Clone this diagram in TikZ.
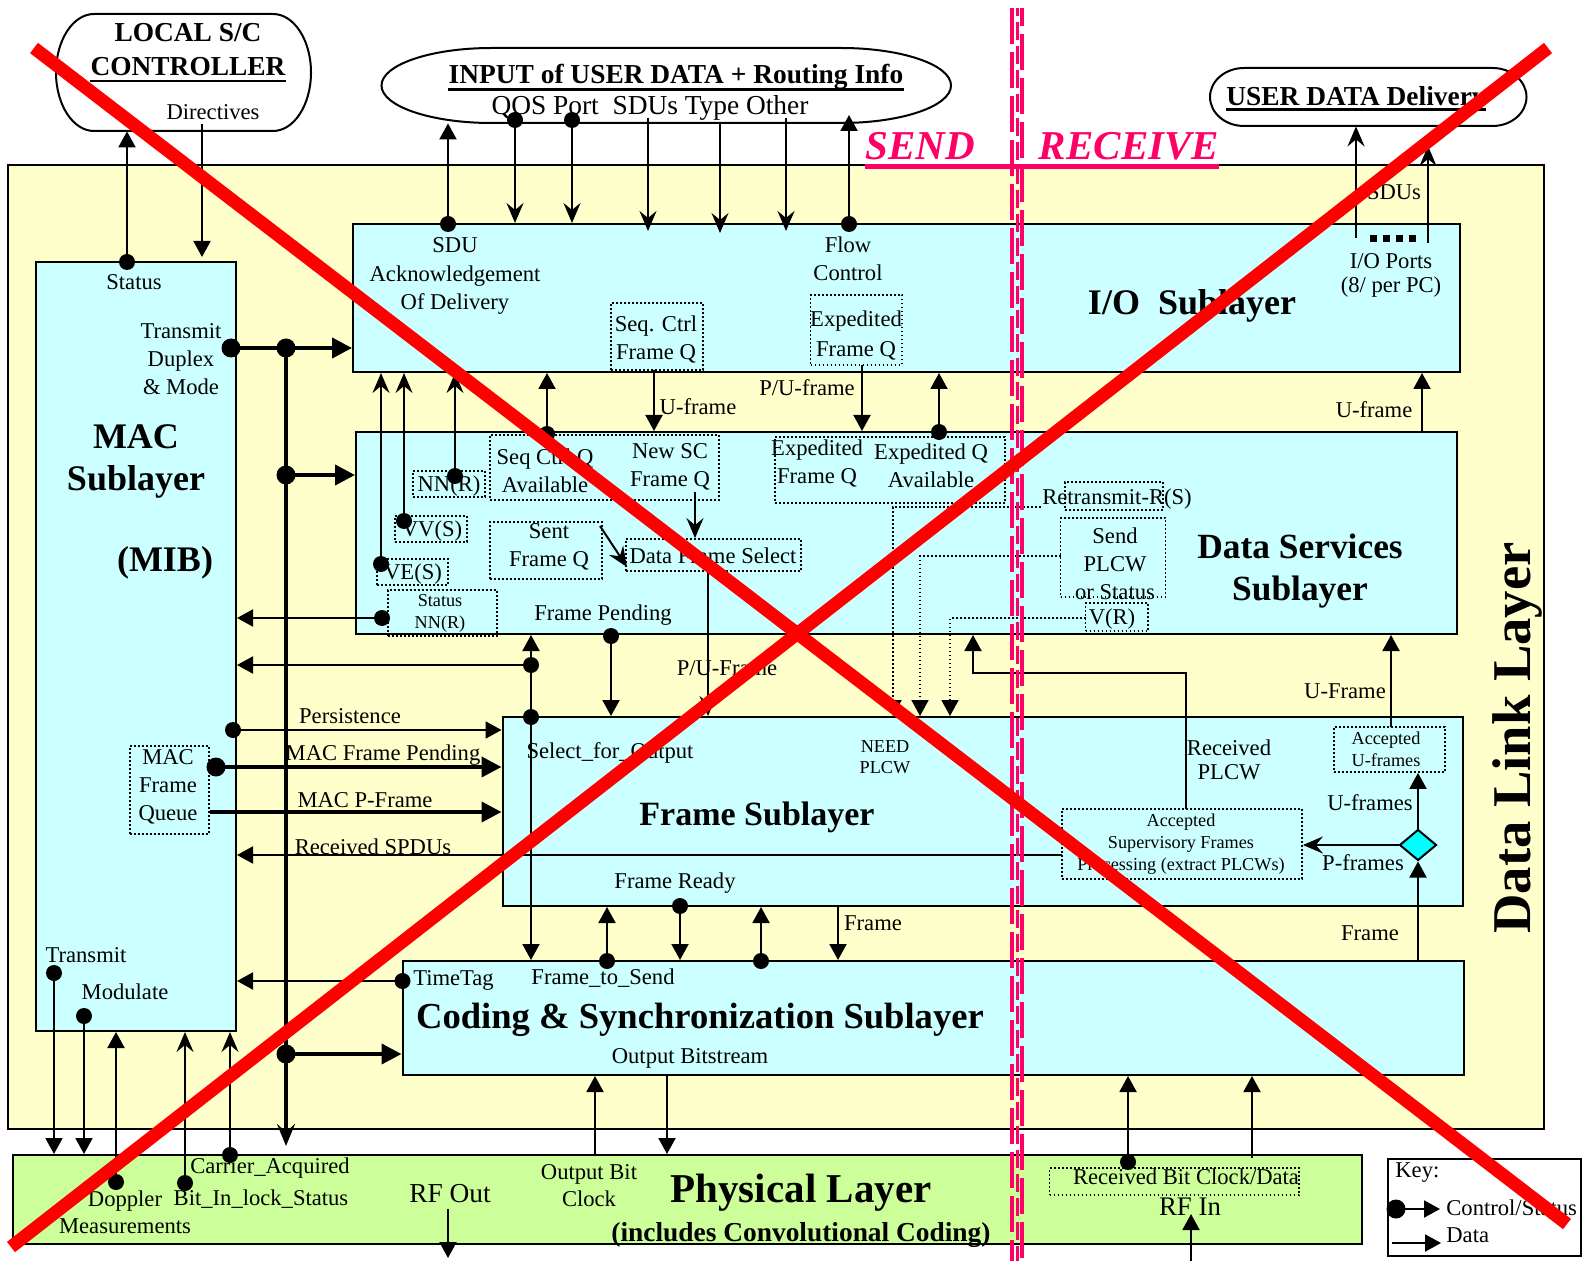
\documentclass[tikz,border=0pt]{standalone}
\usepackage{fontspec}
\setmainfont{Liberation Serif}
\usetikzlibrary{arrows.meta,fit,shapes.geometric}
\definecolor{dlly}{RGB}{255,255,204}
\definecolor{subc}{RGB}{204,255,255}
\definecolor{phyg}{RGB}{204,255,153}
\definecolor{pinkc}{RGB}{255,0,102}
\definecolor{diac}{RGB}{0,255,255}
\definecolor{xred}{RGB}{255,0,0}
\begin{document}
\begin{tikzpicture}[x=0.5pt,y=-0.5pt,
  lay/.style={draw, line width=1pt, inner sep=0pt},
  sub/.style={lay, fill=subc},
  qbox/.style={draw, line width=0.9pt, dash pattern=on 0.9pt off 1.1pt, inner sep=0pt},
  lbl/.style={inner sep=0pt, font=\fontsize{11.3}{14}\selectfont, align=center},
  sml/.style={inner sep=0pt, font=\fontsize{9.1}{11}\selectfont, align=center},
  ttl/.style={inner sep=0pt, font=\fontsize{18}{21}\selectfont\bfseries, align=center},
  hdr/.style={inner sep=0pt, font=\fontsize{13.7}{16}\selectfont\bfseries},
  dot/.style={circle, fill=black, inner sep=0pt, minimum size=8pt},
  bdot/.style={circle, fill=black, inner sep=0pt, minimum size=9.5pt},
  ctl/.style={line width=1pt, -{Triangle[length=8pt,width=8.5pt]}},
  dat/.style={line width=1pt, -{Stealth[length=10pt,width=8.5pt,inset=3.5pt]}},
  thk/.style={line width=2pt, -{Triangle[length=10pt,width=10pt]}},
  dtl/.style={line width=0.9pt, dash pattern=on 0.9pt off 1.1pt, -{Triangle[length=8pt,width=8.5pt]}},
]
\fill[white] (0,0) rectangle (1583,1261);
\useasboundingbox (0,0) rectangle (1583,1261);

% ---------- top shapes ----------
\draw[line width=1pt] (94,14) -- (273,14) arc[start angle=-90,end angle=90,x radius=38,y radius=58.5]
  -- (94,131) arc[start angle=90,end angle=270,x radius=38,y radius=58.5] -- cycle;
\node[fit={(56,14)(311,131)}, inner sep=0pt] (loc) {};
\draw[line width=1pt] (491.5,48) -- (841,48) arc[start angle=-90,end angle=90,x radius=110,y radius=37.5]
  -- (491.5,123) arc[start angle=90,end angle=270,x radius=110,y radius=37.5] -- cycle;
\node[fit={(381.5,48)(951,123)}, inner sep=0pt] (inp) {};
\draw[line width=1pt] (1244,68) -- (1492.5,68) arc[start angle=-90,end angle=90,x radius=34,y radius=29]
  -- (1244,126) arc[start angle=90,end angle=270,x radius=34,y radius=29] -- cycle;
\node[fit={(1210,68)(1526.5,126)}, inner sep=0pt] (ud) {};

% ---------- layers ----------
\node[lay, fill=dlly, fit={(7.5,165)(1544,1129)}] (dll) {};
\node[sub, fit={(35.5,262)(236,1031)}] (mac) {};
\node[sub, fit={(353,224)(1459.5,372)}] (io) {};
\node[sub, fit={(356,432)(1457,634)}] (ds) {};
\node[sub, fit={(502.5,717)(1463,906)}] (fs) {};
\node[sub, fit={(402.5,961)(1464,1075)}] (cs) {};
\node[lay, fill=phyg, fit={(12.5,1155)(1362,1244)}] (phy) {};
\node[lay, fill=white, fit={(1387.5,1159)(1581,1256)}] (key) {};

% ---------- dotted boxes ----------
\node[qbox, fit={(611,303)(703,370)}] (qSeqC) {};
\node[qbox, fit={(810.5,295)(902,365)}] (qExpF) {};
\node[qbox, fit={(413,471)(485,497)}] (qNNR) {};
\node[qbox, fit={(490,435)(719,500)}] (qSeqQ) {};
\node[qbox, fit={(395,516)(467,542)}] (qVVS) {};
\node[qbox, fit={(377,559)(448,585)}] (qVES) {};
\node[qbox, fit={(388,590)(497,636)}] (qStNN) {};
\node[qbox, fit={(490,522)(602,579)}] (qSent) {};
\node[qbox, fit={(626,539)(801,571)}] (qDFS) {};
\node[qbox, fit={(775,437)(1005,503)}] (qExpQ) {};
\node[qbox, fit={(1065,482)(1163,510)}] (qRetr) {};
\node[qbox, fit={(1060.5,518)(1165.5,597)}] (qSend) {};
\node[qbox, fit={(1085.5,603)(1148,631)}] (qVR) {};
\node[qbox, fit={(130,746)(209,834)}] (qMACQ) {};
\node[qbox, fit={(1334,727)(1445,772)}] (qAccU) {};
\node[qbox, fit={(1062,809)(1302,879)}] (qAccS) {};
\node[qbox, fit={(1049.5,1168)(1299,1195)}] (qRBC) {};

% ---------- headings ----------
\node[hdr, anchor=base] (tLocal) at (188,42) {LOCAL S/C};
\node[hdr, anchor=base] (tCtrl) at (188,76) {CONTROLLER};
\draw[line width=1.4pt] ([yshift=-2.5pt]tCtrl.base west) -- ([yshift=-2.5pt]tCtrl.base east);
\node[hdr, anchor=base] (tInp) at (676,84) {INPUT of USER DATA + Routing Info};
\draw[line width=1.4pt] ([yshift=-2.7pt]tInp.base west) -- ([yshift=-2.7pt]tInp.base east);
\node[inner sep=0pt, font=\fontsize{13.7}{16}\selectfont] (tQos) at (650,108) {QOS Port\ \ SDUs Type Other};
\node[hdr, anchor=base] (tUD) at (1356,106) {USER DATA Delivery};
\draw[line width=1.4pt] ([yshift=-1.8pt]tUD.base west) -- ([yshift=-1.8pt]tUD.base east);
\node[inner sep=0pt, anchor=base, text=pinkc, font=\fontsize{20.5}{24}\selectfont\bfseries\itshape] (tSEND) at (920,160) {SEND};
\node[inner sep=0pt, anchor=base, text=pinkc, font=\fontsize{20.5}{24}\selectfont\bfseries\itshape] (tRECV) at (1129,160) {RECEIVE};
\draw[pinkc, line width=2.5pt] (tSEND.base west |- 0,167) -- (tRECV.base east |- 0,167);

% ---------- labels ----------
\node[lbl] (tDir) at (213,112) {Directives};
\node[lbl] (tStatus) at (134,282) {Status};
\node[lbl] (tTx) at (181,359) {Transmit\\Duplex\\\& Mode};
\node[ttl] (tMAC) at (136,437) {MAC};
\node[ttl] (tSubl) at (136,482) {Sublayer};
\node[ttl] (tMIB) at (165,563) {(MIB)};
\node[lbl, font=\fontsize{11.3}{14.25}\selectfont] (tSDU) at (455,276) {SDU\\Acknowledgement\\Of Delivery};
\node[lbl] (tFlow) at (848,259) {Flow\\Control};
\node[ttl] (tIO) at (1192,306) {I/O\ \ Sublayer};
\node[lbl, font=\fontsize{11.3}{12}\selectfont] (tPorts) at (1391,275) {I/O Ports\\(8/ per PC)};
\node[lbl] (tSDUs) at (1394,192) {SDUs};
\node[lbl] (tUf1) at (698,407) {U-frame};
\node[lbl] (tPUf) at (807,388) {P/U-frame};
\node[lbl] (tUf2) at (1374,410) {U-frame};
\node[lbl] (tSeqC) at (656,339) {Seq. Ctrl\\Frame Q};
\node[lbl, font=\fontsize{11.3}{15}\selectfont] (tExpF) at (856,335) {Expedited\\Frame Q};
\node[lbl] (tNNR) at (449,486) {NN(R)};
\node[lbl] (tSeqQ) at (545,471) {Seq Ctrl Q\\Available};
\node[lbl] (tNewSC) at (670,467) {New SC\\Frame Q};
\node[lbl] (tVVS) at (432,531) {VV(S)};
\node[lbl] (tVES) at (413,574) {VE(S)};
\node[sml] (tStNN) at (440,613) {Status\\NN(R)};
\node[lbl] (tSent) at (549,547) {Sent\\Frame Q};
\node[lbl] (tDFS) at (713,556) {Data Frame Select};
\node[lbl] (tExpF2) at (817,463) {Expedited\\Frame Q};
\node[lbl] (tExpQ) at (931,466) {Expedited Q\\Available};
\node[lbl] (tRetr) at (1117,499) {Retransmit-R(S)};
\node[lbl] (tSendP) at (1115,564) {Send\\PLCW\\or Status};
\node[lbl] (tVR) at (1112,619) {V(R)};
\node[lbl] (tFP) at (603,615) {Frame Pending};
\node[lbl] (tPUF2) at (727,668) {P/U-Frame};
\node[ttl, font=\fontsize{17.7}{21}\selectfont\bfseries] (tDS) at (1300,571) {Data Services\\Sublayer};
\node[lbl] (tUF3) at (1345,691) {U-Frame};
\node[lbl, font=\fontsize{11.3}{12}\selectfont] (tRP) at (1229,760) {Received\\PLCW};
\node[lbl] (tPers) at (350,716) {Persistence};
\node[lbl] (tMFP) at (383,755) {MAC Frame Pending};
\node[lbl] (tMPF) at (365,800) {MAC P-Frame};
\node[lbl] (tRS) at (373,847) {Received SPDUs};
\node[lbl] (tMACQ) at (168,787) {MAC\\Frame\\Queue};
\node[lbl] (tSel) at (610,753) {Select\_for\_Output};
\node[sml, font=\fontsize{9.1}{10.5}\selectfont] (tNeed) at (885,757) {NEED\\PLCW};
\node[inner sep=0pt, font=\fontsize{17}{20}\selectfont\bfseries] (tFS) at (757,817) {Frame Sublayer};
\node[sml] (tAccU) at (1386,749) {Accepted\\U-frames};
\node[sml] (tAccS) at (1181,844) {Accepted\\Supervisory Frames\\Processing (extract PLCWs)};
\node[lbl] (tUfs) at (1370,803) {U-frames};
\node[lbl] (tPfs) at (1363,863) {P-frames};
\node[lbl] (tFR) at (675,883) {Frame Ready};
\node[lbl] (tFr1) at (873,923) {Frame};
\node[lbl] (tFr2) at (1370,933) {Frame};
\node[lbl] (tTx2) at (86,955) {Transmit};
\node[lbl] (tMod) at (125,992) {Modulate};
\node[lbl] (tTT) at (453.5,980) {TimeTag};
\node[lbl] (tFtS) at (603,978) {Frame\_to\_Send};
\node[inner sep=0pt, font=\fontsize{18.3}{22}\selectfont\bfseries] (tCS) at (700,1020) {Coding \& Synchronization Sublayer};
\node[lbl] (tOB) at (690,1058) {Output Bitstream};
\node[lbl] (tCA) at (270,1168) {Carrier\_Acquired};
\node[lbl, font=\fontsize{11.3}{13.5}\selectfont] (tDop) at (125,1212) {Doppler\\Measurements};
\node[lbl] (tBIL) at (261,1199) {Bit\_In\_lock\_Status};
\node[inner sep=0pt, font=\fontsize{13.7}{16}\selectfont] (tRFO) at (450,1194) {RF Out};
\node[lbl, font=\fontsize{11.3}{13.5}\selectfont] (tOBC) at (589,1186) {Output Bit\\Clock};
\node[inner sep=0pt, font=\fontsize{20.5}{24}\selectfont\bfseries] (tPhy) at (801,1193) {Physical Layer};
\node[inner sep=0pt, font=\fontsize{13.7}{16}\selectfont\bfseries] (tInc) at (801,1235) {(includes Convolutional Coding)};
\node[lbl] (tRBC) at (1186,1177) {Received Bit Clock/Data};
\node[inner sep=0pt, font=\fontsize{13.4}{16}\selectfont] (tRFI) at (1190,1207) {RF In};
\node[lbl, anchor=west] (tKey) at (1395,1173) {Key:};
\node[lbl, anchor=west] (tKC) at (1446,1208) {Control/Status};
\node[lbl, anchor=west] (tKD) at (1446,1235) {Data};
\node[rotate=90, inner sep=0pt, font=\fontsize{27.3}{30}\selectfont\bfseries] (tDLL) at (1517,738) {Data Link Layer};

% ---------- connectors: controller / input ----------
\node[dot] (dSt) at (127,262) {};
\draw[ctl] (dSt.center) -- (dSt |- loc.south);
\coordinate (cDirA) at (202,124);
\coordinate (cDirB) at (202,257);
\draw[ctl] (cDirA) -- (cDirB);
\node[dot] (dSDU) at (448,224) {};
\draw[ctl] (dSDU.center) -- (dSDU |- inp.south);
\node[dot] (dQos) at (515,120) {};
\draw[dat] (dQos.center) -- (dQos |- io.north);
\node[dot] (dPort) at (572,120) {};
\draw[dat] (dPort.center) -- (dPort |- io.north);
\coordinate (cSDUa) at (648,118); \coordinate (cSDUb) at (648,231);
\draw[dat] (cSDUa) -- (cSDUb);
\coordinate (cTypa) at (720,122); \coordinate (cTypb) at (720,233);
\draw[dat] (cTypa) -- (cTypb);
\coordinate (cOtha) at (786,118); \coordinate (cOthb) at (786,231);
\draw[dat] (cOtha) -- (cOthb);
\node[dot] (dFlow) at (849,224) {};
\coordinate (cFlow) at (849,115);
\draw[ctl] (dFlow.center) -- (cFlow);

% ---------- MAC to sublayers (thick bus) ----------
\node[bdot] (dTx) at (231,348) {};
\node[bdot] (dB1) at (286,348) {};
\node[bdot] (dB2) at (286,475) {};
\node[bdot] (dB3) at (286,1054) {};
\coordinate (cBend) at (286,1146);
\draw[thk] (dTx.center) -- (io.west |- dTx);
\draw[line width=2pt, -{Stealth[length=11pt,width=9pt,inset=4pt]}] (dB1.center) -- (cBend);
\draw[thk] (dB2.center) -- (ds.west |- dB2);
\draw[thk] (dB3.center) -- (cs.west |- dB3);

% ---------- DS <-> IO ----------
\node[dot] (dVES) at (381,564) {};
\draw[dat] (dVES.center) -- (dVES |- io.south);
\node[dot] (dVVS) at (404,521) {};
\draw[dat] (dVVS.center) -- (dVVS |- io.south);
\node[dot] (dNNR) at (455,476) {};
\draw[dat] (dNNR.center) -- (dNNR |- io.south);
\node[dot] (dSQA) at (547,434) {};
\draw[ctl] (dSQA.center) -- (dSQA |- io.south);
\coordinate (cUfa) at (654,370);
\draw[ctl] (cUfa) -- (cUfa |- ds.north);
\coordinate (cPUa) at (862,365);
\draw[ctl] (cPUa) -- (cPUa |- ds.north);
\node[dot] (dEQA) at (939,432) {};
\draw[ctl] (dEQA.center) -- (dEQA |- io.south);
\coordinate (cUfR) at (1422,432);
\draw[ctl] (cUfR) -- (cUfR |- io.south);

% ---------- SDUs out ----------
\coordinate (cS1) at (1356,238);
\draw[dat] (cS1) -- (cS1 |- ud.south);
\coordinate (cS2a) at (1428,243); \coordinate (cS2b) at (1428,146);
\draw[dat] (cS2a) -- (cS2b);
\coordinate (cPa) at (1370,239); \coordinate (cPb) at (1418,239);
\draw[line width=3.5pt, dash pattern=on 3.5pt off 3pt] (cPa) -- (cPb);

% ---------- DS internals ----------
\coordinate (cSnA) at (600,526); \coordinate (cSnB) at (627,567);
\draw[dat] (cSnA) -- (cSnB);
\coordinate (cNcA) at (695,492);
\draw[dat] (cNcA) -- (cNcA |- qDFS.north);
\coordinate (cDF) at (708,571);
\draw[dat] (cDF) -- (cDF |- fs.north);
\node[dot] (dSNN) at (382,618) {};
\draw[ctl] (dSNN.center) -- (mac.east |- dSNN);
\node[dot] (dA) at (531,665) {};
\node[dot] (dBf) at (531,717) {};
\draw[ctl] (dA.center) -- (mac.east |- dA);
\draw[ctl] (dA.center) -- (dA |- ds.south);
\draw[ctl] (dA.center) -- (dA |- cs.north);
\node[dot] (dFP) at (611,636) {};
\draw[ctl] (dFP.center) -- (dFP |- fs.north);
\coordinate (cRt) at (1041,507); \coordinate (cRtD) at (893,507);
\draw[dtl] (cRt) -- (cRtD) -- (cRtD |- fs.north);
\coordinate (cSp) at (1060.5,556); \coordinate (cSpD) at (920,556);
\draw[dtl] (cSp) -- (cSpD) -- (cSpD |- fs.north);
\coordinate (cVr) at (1085.5,618); \coordinate (cVrD) at (950,618);
\draw[dtl] (cVr) -- (cVrD) -- (cVrD |- fs.north);

% ---------- frame sublayer ----------
\coordinate (cRP) at (1186,809); \coordinate (cRPc) at (973,673);
\draw[ctl] (cRP) |- (cRPc) -- (cRPc |- ds.south);
\coordinate (cAU) at (1391,727);
\draw[ctl] (cAU) -- (cAU |- ds.south);
\node[diamond, draw, line width=1pt, fill=diac, minimum width=18.5pt, minimum height=15.5pt, inner sep=0pt] (dia) at (1418,845) {};
\draw[dat] (dia.west) -- (qAccS.east |- dia.west);
\draw[ctl] (dia.north) -- (dia.north |- qAccU.south);
\draw[ctl] (dia.south |- cs.north) -- (dia.south);
\coordinate (cRS) at (1062,855);
\draw[ctl] (cRS) -- (mac.east |- cRS);
\node[dot] (dPer) at (233,730) {};
\draw[ctl] (dPer.center) -- (fs.west |- dPer);
\node[bdot] (dMFP) at (216,767) {};
\draw[thk] (dMFP.center) -- (fs.west |- dMFP);
\coordinate (cMPF) at (210,812);
\draw[thk] (cMPF) -- (fs.west |- cMPF);
\node[dot] (dF1) at (607,961) {};
\draw[ctl] (dF1.center) -- (dF1 |- fs.south);
\node[dot] (dF2) at (680,906) {};
\draw[ctl] (dF2.center) -- (dF2 |- cs.north);
\node[dot] (dF3) at (761,961) {};
\draw[ctl] (dF3.center) -- (dF3 |- fs.south);
\coordinate (cF4) at (838,906);
\draw[ctl] (cF4) -- (cF4 |- cs.north);

% ---------- coding / MAC / physical ----------
\node[dot] (dTT) at (402.5,981) {};
\draw[ctl] (dTT.center) -- (mac.east |- dTT);
\node[dot] (dTr) at (54,973) {};
\draw[ctl] (dTr.center) -- (dTr |- phy.north);
\node[dot] (dMo) at (84,1016) {};
\draw[ctl] (dMo.center) -- (dMo |- phy.north);
\node[dot] (dDo) at (116,1182) {};
\draw[ctl] (dDo.center) -- (dDo |- mac.south);
\node[dot] (dBi) at (185,1183) {};
\draw[dat] (dBi.center) -- (dBi |- mac.south);
\node[dot] (dCa) at (230,1155) {};
\draw[dat] (dCa.center) -- (dCa |- mac.south);
\coordinate (cOB1) at (595,1155);
\draw[ctl] (cOB1) -- (cOB1 |- cs.south);
\coordinate (cOB2) at (667,1075);
\draw[ctl] (cOB2) -- (cOB2 |- phy.north);
\coordinate (cRFa) at (448,1209); \coordinate (cRFb) at (448,1258);
\draw[ctl] (cRFa) -- (cRFb);
\node[dot] (dRB) at (1128,1162) {};
\draw[ctl] (dRB.center) -- (dRB |- cs.south);
\coordinate (cRB2) at (1252,1158);
\draw[ctl] (cRB2) -- (cRB2 |- cs.south);
\coordinate (cRIa) at (1191,1261); \coordinate (cRIb) at (1191,1214);
\draw[ctl] (cRIa) -- (cRIb);
\node[bdot] (dK) at (1396,1209) {};
\coordinate (cKa) at (1440,1209);
\draw[ctl] (dK.center) -- (cKa);
\coordinate (cKb) at (1392,1243); \coordinate (cKc) at (1441,1243);
\draw[ctl] (cKb) -- (cKc);

% ---------- send / receive divider ----------
\draw[pinkc, line width=1.6pt, dash pattern=on 18pt off 4pt] (1012,8) -- (1012,1261);
\draw[pinkc, line width=1.2pt, dash pattern=on 9pt off 3pt, dash phase=5pt] (1017.5,8) -- (1017.5,1261);
\draw[pinkc, line width=1.6pt, dash pattern=on 18pt off 4pt, dash phase=9pt] (1022,8) -- (1022,1261);

% ---------- red cross ----------
\draw[xred, line width=6.5pt] (34,48) -- (1567,1224);
\draw[xred, line width=6.5pt] (11,1247) -- (1548,48);
\end{tikzpicture}
\end{document}
